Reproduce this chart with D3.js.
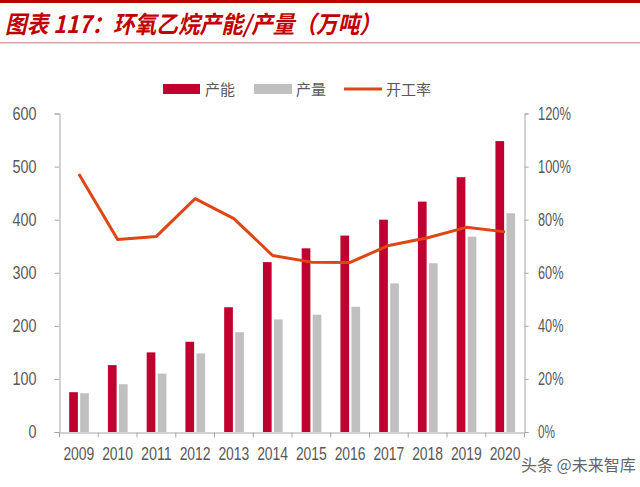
<!DOCTYPE html>
<html>
<head>
<meta charset="utf-8">
<script src="https://cdn.jsdelivr.net/npm/d3@7"></script>
<style>
  body { margin: 0; background: #fff; }
  svg { display: block; }
</style>
</head>
<body>
<div id="vis"></div>
<script>
// data
const years = ["2009","2010","2011","2012","2013","2014","2015","2016","2017","2018","2019","2020"];
const capacity = [75, 126, 150, 170, 235, 320, 346, 370, 400, 434, 480, 548];
const output = [73, 90, 110, 148, 188, 212, 221, 236, 280, 318, 368, 412];
const rate = [0.972, 0.725, 0.737, 0.879, 0.804, 0.665, 0.640, 0.639, 0.703, 0.732, 0.771, 0.754];
const leftTicks = [0, 100, 200, 300, 400, 500, 600];
const rightTicks = [0, 0.2, 0.4, 0.6, 0.8, 1.0, 1.2];

const titleText = "图表 117：环氧乙烷产能/产量（万吨）";
const legendNames = ["产能", "产量", "开工率"];

const svg = d3.select("#vis")
    .append("svg")
    .attr("width", 640)
    .attr("height", 487);

const red = "#c0002e", grey = "#c0c0c0", orange = "#de4614", axisGrey = "#a6a6a6", textGrey = "#595959";

// header
svg.append("rect").attr("x", 0).attr("y", 0).attr("width", 640).attr("height", 3).attr("fill", "#c00000");
svg.append("rect").attr("x", 0).attr("y", 42).attr("width", 640).attr("height", 1.5).attr("fill", "#d8a3a3");
svg.append("text")
    .attr("x", 5).attr("y", 33)
    .attr("font-family", "'Noto Sans CJK SC', sans-serif")
    .attr("font-size", 24)
    .attr("font-weight", "bold")
    .attr("font-style", "italic")
    .attr("fill", "#c00000")
    .attr("textLength", 376)
    .attr("lengthAdjust", "spacingAndGlyphs")
    .text(titleText);

const x = d3.scaleBand().domain(years).range([59.5, 524.5]);
const yL = d3.scaleLinear().domain([0, 600]).range([432, 113.5]);
const yR = d3.scaleLinear().domain([0, 1.2]).range([432, 113.5]);

const barW = 8.7;

// bars
svg.append("g").selectAll("rect")
    .data(years)
    .join("rect")
    .attr("x", d => x(d) + x.bandwidth() / 2 - 1 - barW)
    .attr("y", (d, i) => yL(capacity[i]))
    .attr("width", barW)
    .attr("height", (d, i) => yL(0) - yL(capacity[i]))
    .attr("fill", red);

svg.append("g").selectAll("rect")
    .data(years)
    .join("rect")
    .attr("x", d => x(d) + x.bandwidth() / 2 + 1.3)
    .attr("y", (d, i) => yL(output[i]))
    .attr("width", barW)
    .attr("height", (d, i) => yL(0) - yL(output[i]))
    .attr("fill", grey);

// line
const line = d3.line()
    .x((d, i) => x(years[i]) + x.bandwidth() / 2)
    .y(d => yR(d));

svg.append("path")
    .datum(rate)
    .attr("d", line)
    .attr("fill", "none")
    .attr("stroke", orange)
    .attr("stroke-width", 3)
    .attr("stroke-linejoin", "round");

// axes
const gL = svg.append("g")
    .attr("transform", "translate(59.5,0)")
    .call(d3.axisLeft(yL).tickValues(leftTicks).tickSize(5).tickPadding(18));
const gR = svg.append("g")
    .attr("transform", "translate(524.5,0)")
    .call(d3.axisRight(yR).tickValues(rightTicks).tickSize(4).tickPadding(9.5).tickFormat(d3.format(".0%")));
const gX = svg.append("g")
    .attr("transform", "translate(0,432.5)")
    .call(d3.axisBottom(x).tickSize(0).tickPadding(14));

// tick marks at band edges on the x axis
gX.append("g").selectAll("line")
    .data(years.concat(["end"]))
    .join("line")
    .attr("x1", (d, i) => x.range()[0] + i * x.step())
    .attr("x2", (d, i) => x.range()[0] + i * x.step())
    .attr("y1", 0).attr("y2", 5)
    .attr("stroke", axisGrey);

[gL, gR, gX].forEach(g => {
    g.select(".domain").attr("stroke", axisGrey);
    g.selectAll(".tick line").attr("stroke", axisGrey);
    g.selectAll("text").attr("fill", textGrey);
});
gL.selectAll("text").attr("font-family", "'Liberation Sans', Arial, sans-serif").attr("font-size", 17.5)
    .attr("textLength", d => String(d).length * 8).attr("lengthAdjust", "spacingAndGlyphs");
gR.selectAll("text").attr("font-family", "'Liberation Sans', Arial, sans-serif").attr("font-size", 17.5)
    .attr("textLength", d => d >= 1 ? 33 : d > 0 ? 25.5 : 17).attr("lengthAdjust", "spacingAndGlyphs");
gX.selectAll("text").attr("font-family", "'Liberation Sans', Arial, sans-serif").attr("font-size", 19)
    .attr("textLength", 31).attr("lengthAdjust", "spacingAndGlyphs");

// legend
const legend = svg.append("g").attr("font-family", "'Noto Sans CJK SC', sans-serif").attr("font-size", 15).attr("fill", textGrey);
legend.append("rect").attr("x", 163).attr("y", 84).attr("width", 37).attr("height", 10).attr("fill", red);
legend.append("text").attr("x", 205).attr("y", 95).text(legendNames[0]);
legend.append("rect").attr("x", 254).attr("y", 84).attr("width", 38).attr("height", 10).attr("fill", grey);
legend.append("text").attr("x", 296).attr("y", 95).text(legendNames[1]);
legend.append("line").attr("x1", 344).attr("x2", 382).attr("y1", 89).attr("y2", 89).attr("stroke", orange).attr("stroke-width", 3);
legend.append("text").attr("x", 386).attr("y", 95).text(legendNames[2]);

// watermark
svg.append("text")
    .attr("x", 521).attr("y", 471)
    .attr("font-family", "'Noto Sans CJK SC', sans-serif")
    .attr("font-size", 16)
    .attr("fill", "#666")
    .text("头条 @未来智库");
</script>
</body>
</html>
